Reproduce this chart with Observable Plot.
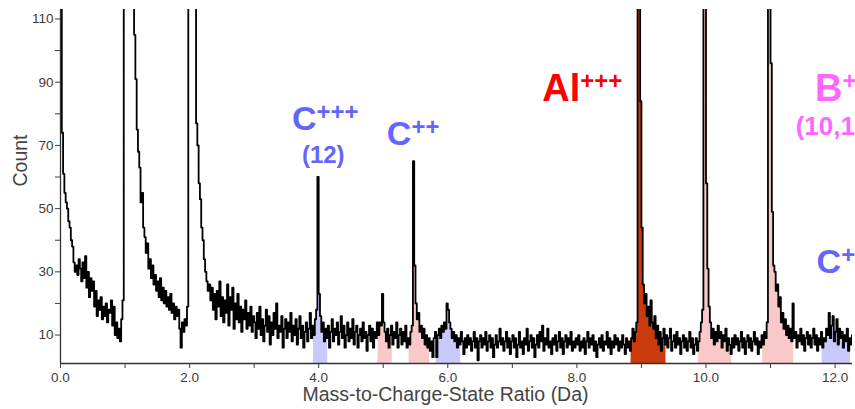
<!DOCTYPE html>
<html><head><meta charset="utf-8">
<script src="https://cdn.jsdelivr.net/npm/d3@7"></script>
<script src="https://cdn.jsdelivr.net/npm/@observablehq/plot@0.6"></script>
<style>html,body{margin:0;padding:0;background:#fff;overflow:hidden;}</style>
</head><body><div id="chart"></div>
<script>
// Histogram bin width (Da); each array holds one Da of bins starting at its integer
const binStep = 0.02;
const counts00 = [400,74,61,55,52,50,46,44,40,38, 33,30,32,29,34,31,27,33,28,35, 25,30,22,28,24,27,19,24,16,21, 18,22,15,19,16,20,14,18,17,21, 13,19,10,14,9,12,8,15,21,400];
const counts01 = [400,400,400,400,400,400,300,105,91,75, 68,63,52,55,44,41,36,39,31,34, 28,32,26,29,24,27,22,28,21,25, 20,24,19,22,18,23,17,20,15,19, 16,18,12,6,14,11,15,13,19,400];
const counts02 = [400,400,400,400,400,77,70,58,53,44, 40,34,30,27,24,26,21,25,18,23, 15,24,19,27,16,22,14,21,17,26, 13,22,18,25,12,20,15,23,14,19, 11,18,15,21,12,17,13,19,11,16];
const counts03 = [14,9,17,12,19,10,15,8,13,18, 11,16,7,14,10,17,12,20,9,13, 11,16,6,12,15,9,14,11,17,8, 13,10,15,7,12,16,9,13,6,11, 14,8,12,17,9,13,10,15,18,60];
const counts04 = [23,16,11,14,8,12,9,13,6,11, 15,8,12,10,14,7,11,16,9,13, 6,10,14,8,12,9,15,7,11,13, 6,10,12,8,14,9,11,5,10,13, 8,12,6,11,9,14,10,14,13,23];
const counts05 = [14,11,8,12,6,10,13,7,11,9, 14,6,10,12,7,11,8,13,6,9, 7,11,13,65,32,20,15,17,11,13, 9,12,7,10,6,9,5,8,3,9, 11,3,10,12,9,13,11,14,12,20];
const counts06 = [18,14,12,9,11,8,10,6,9,7, 11,8,4,9,6,10,7,9,5,8, 11,6,9,2,8,10,6,9,7,11, 5,8,10,6,9,3,7,10,6,8, 12,7,9,5,8,11,6,9,4,8];
const counts07 = [10,6,9,3,7,11,6,8,4,9, 7,12,5,8,10,6,9,3,7,10, 6,11,8,13,5,9,7,12,6,8, 4,9,7,10,5,8,11,6,9,4, 8,10,6,9,7,11,5,8,6,9];
const counts08 = [7,10,5,8,6,9,4,8,11,6, 9,7,10,5,8,3,7,9,6,10, 5,8,7,11,6,9,4,8,6,10, 7,9,5,8,6,10,7,4,9,6, 8,5,9,12,8,11,14,400,400,84];
const counts09 = [44,26,20,23,16,19,13,21,14,12, 16,9,13,7,11,5,9,12,7,10, 6,9,12,5,8,10,6,11,7,9, 4,8,10,6,9,5,8,11,6,9, 4,7,9,5,8,11,14,18,400,400];
const counts10 = [58,31,19,14,9,12,7,11,8,13, 9,11,6,10,8,12,5,9,7,4, 9,6,10,7,9,5,8,11,6,9, 4,8,10,6,9,5,8,11,7,9, 4,8,6,10,7,11,9,14,400,400];
const counts11 = [96,49,32,30,24,26,19,22,14,17, 12,15,10,13,9,12,8,20,9,11, 6,10,8,12,7,10,5,9,11,7, 10,6,9,12,7,10,5,9,7,11, 6,9,8,12,10,17,9,13,16,8];
const counts12 = [11,15,7,12,9,11,6,10,8,12,5,9,7,10];

// Identified ion ranges
const regionSpecies = ["C", "B", "B", "C", "Al", "B", "B", "C"];
const regionStart   = [3.92, 4.92, 5.40, 5.82, 8.84, 9.88, 10.88, 11.80];
const regionEnd     = [4.14, 5.14, 5.72, 6.20, 9.38, 10.40, 11.36, 12.24];

// Peak labels
const ionBase    = ["C", "C", "Al", "B", "C"];
const ionCharge  = ["+++", "++", "+++", "+", "+"];
const ionSpecies = ["C", "C", "Al", "B", "C"];
const ionX       = [3.585, 5.056, 7.463, 11.69, 11.714];
const ionY       = [74.9, 70.0, 84.2, 84.2, 29.5];
const isoText    = ["(12)", "(10,11)"];
const isoSpecies = ["C", "B"];
const isoX       = [3.74, 11.39];
const isoY       = [64.3, 73.2];

// Axis ticks
const xTickValues  = [0,1,2,3,4,5,6,7,8,9,10,11,12];
const xLabelValues = [0,2,4,6,8,10,12];
const yTickValues  = [10,20,30,40,50,60,70,80,90,100,110];
const yLabelValues = [10,30,50,70,90,110];

const fontFamily = "'Liberation Sans', Arial, Helvetica, sans-serif";
const labelColor = {C: "#6464ff", B: "#ff66ff", Al: "#ff0000"};
const fillColor  = {C: "#c9c9fb", B: "#f9c8c8", Al: "#c93a0c"};

const segments = [counts00,counts01,counts02,counts03,counts04,counts05,counts06,counts07,counts08,counts09,counts10,counts11,counts12];
const spectrum = segments.flat().map((y, i) => ({x: Math.round(i * binStep * 100) / 100, y}));

function regionData(s, e) {
  const pts = spectrum.filter(d => d.x >= s - 1e-9 && d.x < e - 1e-9);
  return [...pts, {x: e, y: pts[pts.length - 1].y}];
}
const ctx = document.createElement("canvas").getContext("2d");
function measure(txt, size) { ctx.font = `bold ${size}px ${fontFamily}`; return ctx.measureText(txt).width; }

const marks = [];
regionStart.forEach((s, k) => {
  marks.push(Plot.areaY(regionData(s, regionEnd[k]), {x: "x", y: "y", curve: "step-after", fill: fillColor[regionSpecies[k]], clip: true}));
});
marks.push(Plot.line(spectrum, {x: "x", y: "y", curve: "step-after", stroke: "#000", strokeWidth: 1.8, clip: true}));
marks.push(Plot.ruleX([0], {stroke: "#333", strokeWidth: 1.3}));
marks.push(Plot.ruleY([1], {stroke: "#333", strokeWidth: 1.3}));
marks.push(Plot.axisY({ticks: yTickValues, tickFormat: d => yLabelValues.includes(d) ? String(d) : "", tickSize: 5, tickPadding: 2, fontSize: 13.5, label: null, color: "#3c3c3c"}));
marks.push(Plot.axisX({ticks: xTickValues, tickFormat: d => xLabelValues.includes(d) ? d.toFixed(1) : "", tickSize: 5, tickPadding: 4, fontSize: 13.5, label: null, color: "#3c3c3c"}));
marks.push(Plot.text(["Count"], {frameAnchor: "left", dx: -40, rotate: -90, fontSize: 19.5, fill: "#444"}));
marks.push(Plot.text(["Mass-to-Charge-State Ratio (Da)"], {frameAnchor: "bottom", dy: 37, dx: -11, fontSize: 19.5, fill: "#444"}));

ionBase.forEach((b, i) => {
  const size = ionSpecies[i] === "C" ? 34 : 38;
  const color = labelColor[ionSpecies[i]];
  marks.push(Plot.text([b], {x: [ionX[i]], y: [ionY[i]], textAnchor: "start", lineAnchor: "bottom", fontSize: size, fontWeight: "bold", fill: color}));
  marks.push(Plot.text([ionCharge[i]], {x: [ionX[i]], y: [ionY[i]], dx: measure(b, size), dy: -0.3 * size, textAnchor: "start", lineAnchor: "bottom", fontSize: 24, fontWeight: "bold", fill: color}));
});
isoText.forEach((t, i) => {
  marks.push(Plot.text([t], {x: [isoX[i]], y: [isoY[i]], textAnchor: "start", lineAnchor: "bottom", fontSize: i === 0 ? 24 : 26, fontWeight: "bold", fill: labelColor[isoSpecies[i]]}));
});

const chart = Plot.plot({
  width: 855, height: 409,
  marginLeft: 60, marginRight: 3, marginTop: 9, marginBottom: 46,
  x: {domain: [0, 12.27]},
  y: {domain: [1, 113]},
  style: {fontFamily: fontFamily, background: "#fff"},
  marks
});
document.getElementById("chart").appendChild(chart);
</script>
</body></html>
